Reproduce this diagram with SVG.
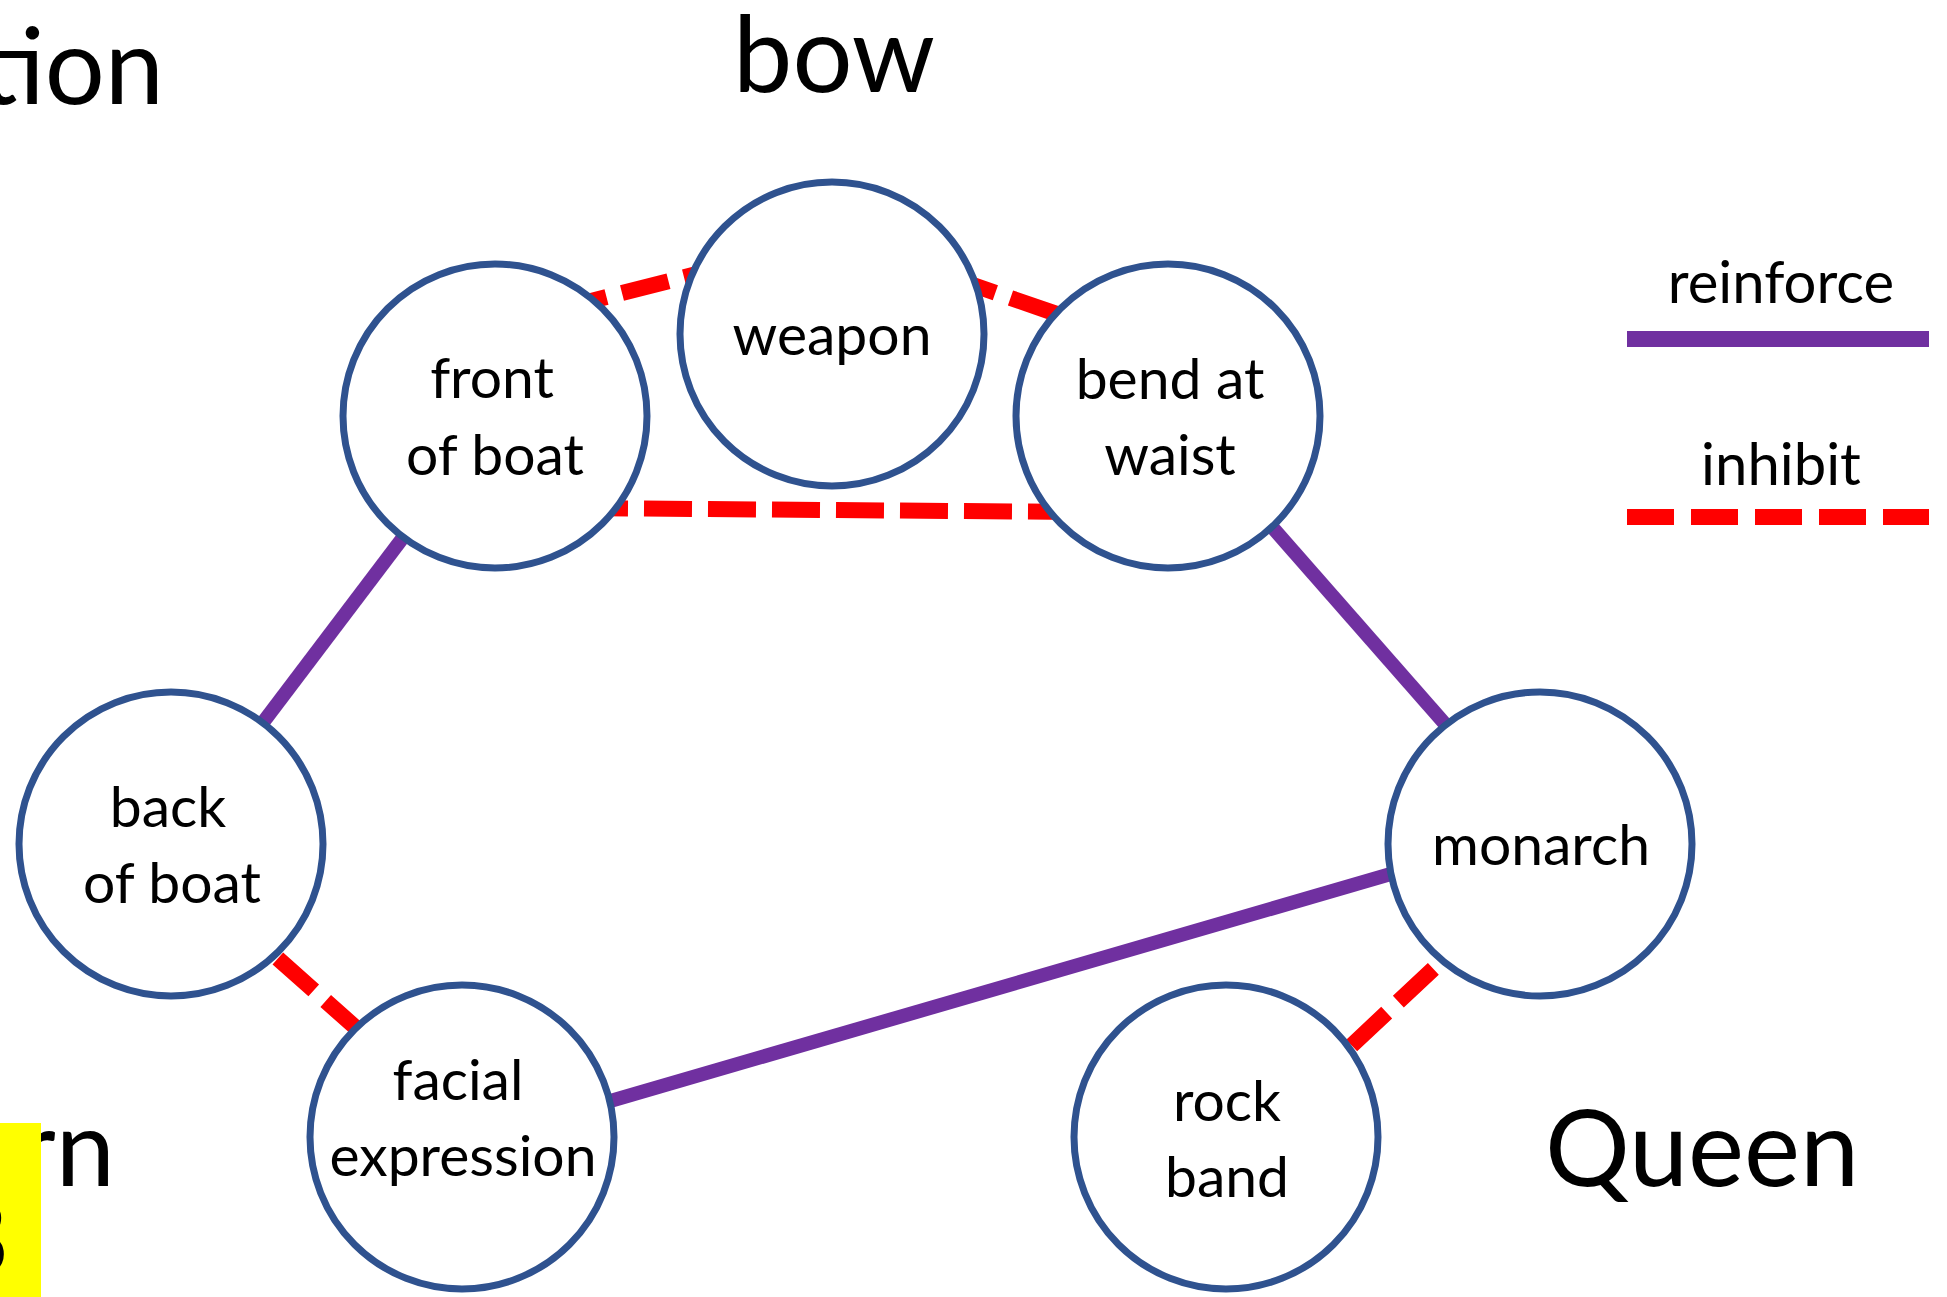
<svg xmlns="http://www.w3.org/2000/svg" width="1947" height="1297" viewBox="0 0 1947 1297">
<style>
.bg{fill:#ffffff}
.node circle{fill:#ffffff;stroke:#2F528F;stroke-width:7}
.node text,.lbl{font-family:Lato,"Liberation Sans",sans-serif;fill:#000000;text-anchor:middle}
.node text{font-size:57px}
.big{font-family:Lato,"Liberation Sans",sans-serif;font-size:106px;fill:#000000}
.reinforce{stroke:#7030A0;stroke-width:14;fill:none}
.inhibit{stroke:#FF0000;stroke-width:16;fill:none;stroke-dasharray:48 16}
</style>
<rect class="bg" x="0" y="0" width="1947" height="1297"/>

<g id="titles">
<text class="big" x="164" y="104" text-anchor="end">tion</text>
<text class="big" x="834" y="92" text-anchor="middle">bow</text>
<text class="big" x="1702" y="1186" text-anchor="middle">Queen</text>
<text class="big" x="115" y="1186" text-anchor="end">rn</text>
<rect x="0" y="1123" width="41" height="174" fill="#FFFF00"/>
<text class="big" x="9" y="1275" text-anchor="end" font-size="130">8</text>
</g>

<g id="connectors">
<line class="inhibit" x1="560" y1="309" x2="720" y2="268"/>
<line class="inhibit" x1="950" y1="277" x2="1080" y2="322"/>
<line class="inhibit" x1="580" y1="508" x2="1090" y2="512"/>
<line class="reinforce" x1="495" y1="416" x2="171" y2="844"/>
<line class="reinforce" x1="1200" y1="445" x2="1510" y2="798"/>
<line class="reinforce" x1="1480" y1="848" x2="540" y2="1121.5"/>
<line class="inhibit" x1="230" y1="916" x2="400" y2="1067"/>
<line class="inhibit" x1="1480" y1="925" x2="1300" y2="1094"/>
</g>

<g id="node-weapon" class="node">
<circle cx="832" cy="334" r="152"/>
<text x="832" y="355">weapon</text>
</g>
<g id="node-front" class="node">
<circle cx="495" cy="416" r="152"/>
<text x="492" y="398">front</text>
<text x="495" y="475">of boat</text>
</g>
<g id="node-bend" class="node">
<circle cx="1168" cy="416" r="152"/>
<text x="1170" y="399">bend at</text>
<text x="1170" y="475">waist</text>
</g>
<g id="node-back" class="node">
<circle cx="171" cy="844" r="152"/>
<text x="168" y="827">back</text>
<text x="172" y="903">of boat</text>
</g>
<g id="node-monarch" class="node">
<circle cx="1540" cy="844" r="152"/>
<text x="1541" y="865">monarch</text>
</g>
<g id="node-facial" class="node">
<circle cx="462" cy="1137" r="152"/>
<text x="458" y="1100">facial</text>
<text x="463" y="1176">expression</text>
</g>
<g id="node-rock" class="node">
<circle cx="1226" cy="1137" r="152"/>
<text x="1227" y="1121">rock</text>
<text x="1227" y="1197">band</text>
</g>

<g id="legend">
<text class="lbl" x="1781" y="303" font-size="58">reinforce</text>
<line x1="1627" y1="339" x2="1929" y2="339" stroke="#7030A0" stroke-width="16"/>
<text class="lbl" x="1781" y="485" font-size="58">inhibit</text>
<line x1="1627" y1="517" x2="1929" y2="517" stroke="#FF0000" stroke-width="16" stroke-dasharray="47 17"/>
</g>
</svg>
